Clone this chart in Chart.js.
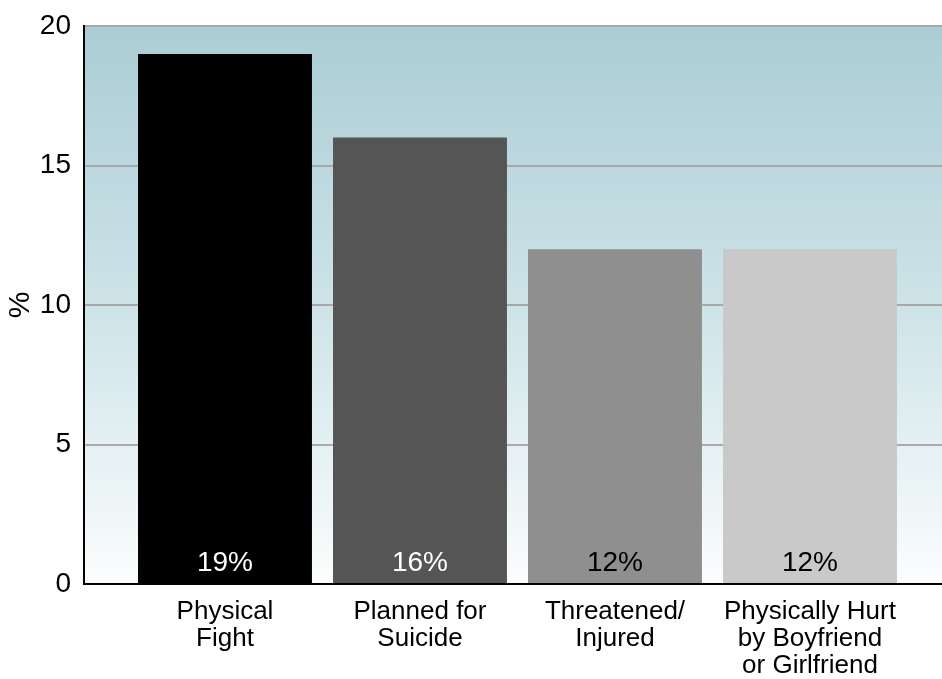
<!DOCTYPE html>
<html>
<head>
<meta charset="utf-8">
<script src="https://cdn.jsdelivr.net/npm/chart.js@4/dist/chart.umd.min.js"></script>
<style>
  html, body { margin: 0; padding: 0; background: #fff; }
  #wrap { width: 942px; height: 679px; }
</style>
</head>
<body>
<div id="wrap"><canvas id="chart"></canvas></div>
<script>
const categories = [
    ["Physical", "Fight"],
    ["Planned for", "Suicide"],
    ["Threatened/", "Injured"],
    ["Physically Hurt", "by Boyfriend", "or Girlfriend"]
];
const values = [19, 16, 12, 12];
const valueLabels = ["19%", "16%", "12%", "12%"];
const yTicks = [0, 5, 10, 15, 20];

const barColors = ["#000000", "#555555", "#8f8f8f", "#c9c9c9"];
const labelColors = ["#ffffff", "#ffffff", "#000000", "#000000"];
const FONT = "'Liberation Sans', Arial, sans-serif";

// gradient behind the plot
const backdrop = {
    id: "backdrop",
    beforeDraw(chart) {
        const { ctx, chartArea: a } = chart;
        const g = ctx.createLinearGradient(0, a.top, 0, a.bottom);
        g.addColorStop(0, "#abcdd4");
        g.addColorStop(0.5, "#cde3e8");
        g.addColorStop(1, "#fbfdfd");
        ctx.save();
        ctx.fillStyle = g;
        ctx.fillRect(a.left, a.top, a.right - a.left, a.bottom - a.top);
        ctx.restore();
    }
};

// percent labels at the foot of each bar
const barText = {
    id: "barText",
    afterDatasetsDraw(chart) {
        const { ctx } = chart;
        const meta = chart.getDatasetMeta(0);
        ctx.save();
        ctx.font = "28px " + FONT;
        ctx.textAlign = "center";
        ctx.textBaseline = "middle";
        meta.data.forEach((bar, i) => {
            ctx.fillStyle = labelColors[i];
            ctx.fillText(valueLabels[i], bar.x, bar.base - 20);
        });
        ctx.restore();
    }
};

new Chart(document.getElementById("chart"), {
    type: "bar",
    data: {
        datasets: [{
            data: values.map((v, i) => ({ x: i, y: v })),
            backgroundColor: barColors,
            borderWidth: 0,
            barPercentage: 0.892,
            categoryPercentage: 1
        }]
    },
    options: {
        responsive: true,
        maintainAspectRatio: false,
        animation: false,
        layout: { padding: { top: 26, right: 0, left: 0, bottom: 0 } },
        plugins: { legend: { display: false }, tooltip: { enabled: false } },
        scales: {
            x: {
                type: "linear",
                offset: false,
                min: -0.723,
                max: 3.677,
                afterBuildTicks(axis) {
                    axis.ticks = categories.map((c, i) => ({ value: i }));
                },
                afterFit(axis) {
                    axis.height = 95;
                    axis.paddingLeft = 0;
                    axis.paddingRight = 0;
                },
                grid: { display: false, drawTicks: false },
                border: { color: "#000", width: 2 },
                ticks: {
                    autoSkip: false,
                    maxRotation: 0,
                    padding: 14,
                    color: "#000",
                    font: { family: FONT, size: 26, lineHeight: 1.04 },
                    callback: (v) => categories[v]
                }
            },
            y: {
                min: 0,
                max: 20,
                afterBuildTicks(axis) {
                    axis.ticks = yTicks.map(v => ({ value: v }));
                },
                afterFit(axis) {
                    axis.width = 84;
                    axis.paddingTop = 0;
                    axis.paddingBottom = 0;
                },
                grid: { color: "#a9a9a9", lineWidth: 2, drawTicks: false },
                border: { color: "#000", width: 2 },
                ticks: {
                    padding: 13,
                    color: "#000",
                    font: { family: FONT, size: 28 }
                },
                title: {
                    display: true,
                    text: "%",
                    color: "#000",
                    padding: { top: 4, bottom: 0 },
                    font: { family: FONT, size: 30, lineHeight: 1.1 }
                }
            }
        }
    },
    plugins: [backdrop, barText]
});
</script>
</body>
</html>
